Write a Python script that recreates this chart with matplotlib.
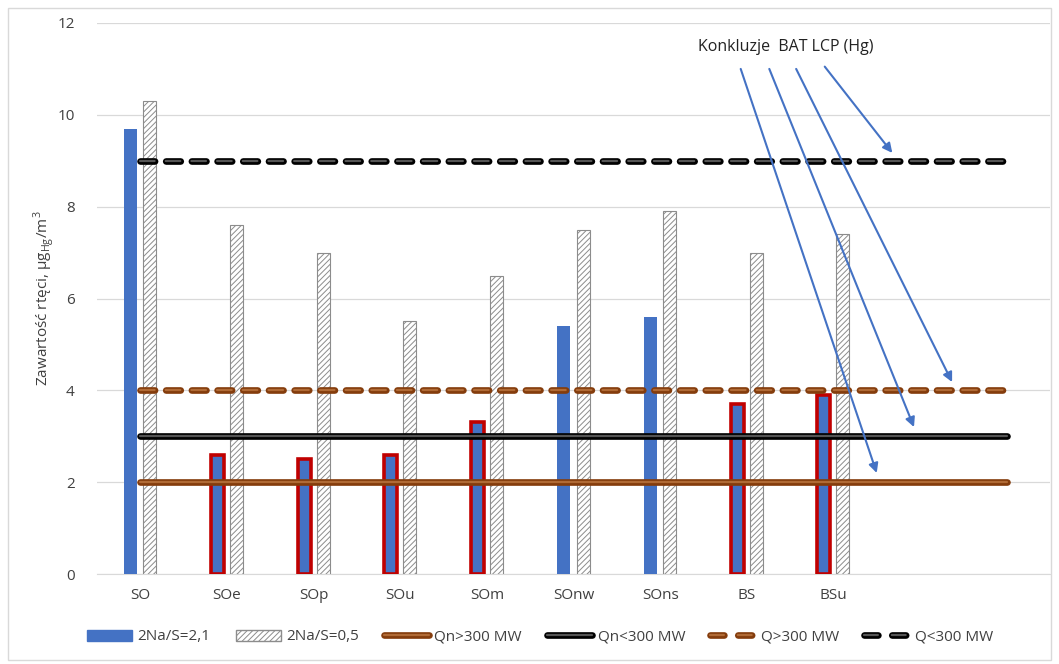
import matplotlib
matplotlib.use("Agg")
import matplotlib.pyplot as plt
import matplotlib.patheffects as pe
from matplotlib.patches import Rectangle
from matplotlib.lines import Line2D
from matplotlib.patches import Patch
import numpy as np

plt.rcParams['font.family'] = ['Open Sans', 'DejaVu Sans']
plt.rcParams['lines.scale_dashes'] = False
plt.rcParams['hatch.linewidth'] = 0.7

categories = ["SO", "SOe", "SOp", "SOu", "SOm", "SOnw", "SOns", "BS", "BSu", "", ""]
na21 = [9.7, 2.6, 2.5, 2.6, 3.3, 5.4, 5.6, 3.7, 3.9]
na05 = [10.3, 7.6, 7.0, 5.5, 6.5, 7.5, 7.9, 7.0, 7.4]
red_outline = [False, True, True, True, True, False, False, True, True]
qn_gt300 = [2] * 11
qn_lt300 = [3] * 11
q_gt300 = [4] * 11
q_lt300 = [9] * 11
yticks = [0, 2, 4, 6, 8, 10, 12]

fig = plt.figure(figsize=(10.59, 6.64), dpi=100)
ax = fig.add_axes([97/1059, 1-574/664, (1050-97)/1059, (574-23)/664])

x = np.arange(len(na21))
w = 0.15
off = 0.11
for xi, v, r in zip(x, na21, red_outline):
    ax.bar(xi - off, v, width=w, color='#4472C4',
           edgecolor='#C00000' if r else '#4472C4',
           linewidth=2.6 if r else 0, zorder=3)
ax.bar(x + off, na05, width=w, color='white', edgecolor='#8C8C8C',
       hatch='//////', linewidth=0.8, zorder=3)

xl = np.arange(len(categories))
brown_dark = '#843C0C'
brown_light = '#B06A35'
def styled(y, dark, light, dashed):
    ln, = ax.plot(xl, y, color=light, lw=1.6, zorder=5,
                  solid_capstyle='round', dash_capstyle='round')
    if dashed:
        ln.set_dashes([10.5, 8.0])
    ln.set_path_effects([pe.Stroke(linewidth=4.8, foreground=dark), pe.Normal()])
    return ln

styled(qn_gt300, brown_dark, brown_light, False)
styled(qn_lt300, '#000000', '#555555', False)
styled(q_gt300, brown_dark, brown_light, True)
styled(q_lt300, '#000000', '#555555', True)

ax.set_xlim(-0.5, len(categories) - 0.5)
ax.set_ylim(0, 12)
ax.set_yticks(yticks)
ax.set_yticklabels([str(t) for t in yticks], fontsize=11, color='#404040')
ax.set_xticks(xl)
ax.set_xticklabels(categories, fontsize=11, color='#404040')
ax.tick_params(axis='both', length=0, pad=10)
ax.tick_params(axis='y', pad=16)
ax.grid(axis='y', color='#D9D9D9', lw=0.9, zorder=0)
ax.set_axisbelow(True)
for s in ['top', 'right', 'left']:
    ax.spines[s].set_visible(False)
ax.spines['bottom'].set_color('#D9D9D9')

ax.set_ylabel(r"Zawartość rtęci, μg$_{\mathregular{Hg}}$/m$^{\mathregular{3}}$", fontsize=11, color='#404040', labelpad=0)

ax.text(7.45, 11.47, "Konkluzje  BAT LCP (Hg)", fontsize=11.5, color='#222222',
        ha='center', va='center')
arrows = [((6.93, 11.0), (8.50, 2.2)),
          ((7.26, 11.0), (8.93, 3.2)),
          ((7.57, 11.0), (9.37, 4.18)),
          ((7.90, 11.05), (8.68, 9.17))]
for (s, e) in arrows:
    ax.annotate("", xy=e, xytext=s,
                arrowprops=dict(arrowstyle='-|>', color='#4472C4', lw=1.5,
                                mutation_scale=14, shrinkA=0, shrinkB=0),
                zorder=6)

handles = [
    Patch(facecolor='#4472C4', edgecolor='#4472C4'),
    Patch(facecolor='white', edgecolor='#8C8C8C', hatch='//////'),
    Line2D([], [], color=brown_light, lw=1.6, solid_capstyle='round', path_effects=[pe.Stroke(linewidth=4.8, foreground=brown_dark), pe.Normal()]),
    Line2D([], [], color='#555555', lw=1.6, solid_capstyle='round', path_effects=[pe.Stroke(linewidth=4.8, foreground='#000000'), pe.Normal()]),
    Line2D([], [], color=brown_light, lw=1.6, dashes=[10, 10], dash_capstyle='round', path_effects=[pe.Stroke(linewidth=4.8, foreground=brown_dark), pe.Normal()]),
    Line2D([], [], color='#555555', lw=1.6, dashes=[10, 10], dash_capstyle='round', path_effects=[pe.Stroke(linewidth=4.8, foreground='#000000'), pe.Normal()]),
]
labels = ["2Na/S=2,1", "2Na/S=0,5", "Qn>300 MW", "Qn<300 MW", "Q>300 MW", "Q<300 MW"]
fig.legend(handles, labels, loc='center', bbox_to_anchor=(540/1059, 1-637/664),
           ncol=6, frameon=False, fontsize=11, handlelength=2.95, columnspacing=1.65,
           handletextpad=0.35, labelcolor='#404040')

fig.patches.append(Rectangle((8/1059, 4/664), 1043/1059, 652/664, transform=fig.transFigure,
                             fill=False, edgecolor='#D9D9D9', lw=1))

fig.savefig("out.png", dpi=100)
